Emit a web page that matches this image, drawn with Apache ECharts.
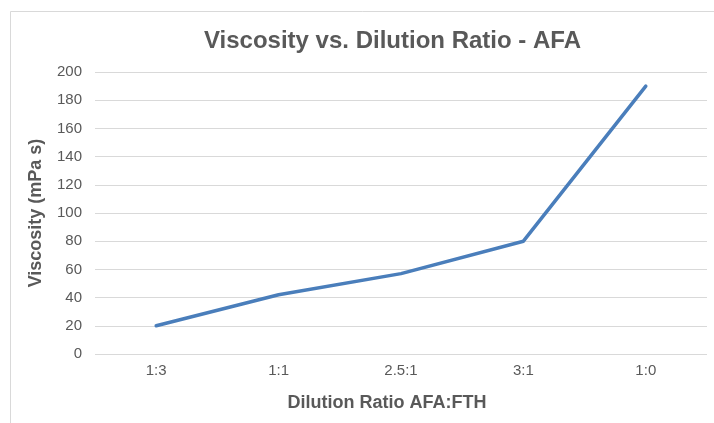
<!DOCTYPE html>
<html>
<head>
<meta charset="utf-8">
<script src="https://cdn.jsdelivr.net/npm/echarts@6/dist/echarts.min.js"></script>
<style>
  html, body { margin: 0; padding: 0; background: #fff; }
  #chart { width: 714px; height: 423px; }
</style>
</head>
<body>
<div id="chart"></div>
<script>
// dilution ratios (AFA:FTH) on the x axis
const ratios = ['1:3', '1:1', '2.5:1', '3:1', '1:0'];
// viscosity readings, mPa s
const viscosity = [20, 42, 57, 80, 190];
// y axis ticks
const yMin = 0;
const yMax = 200;
const yStep = 20;

const chart = echarts.init(document.getElementById('chart'));
const font = 'Liberation Sans, Arial, sans-serif';
const grey = '#595959';

chart.setOption({
    animation: false,
    backgroundColor: '#fff',
    title: {
        text: 'Viscosity vs. Dilution Ratio - AFA',
        left: 199,
        top: 24,
        textStyle: { fontFamily: font, fontSize: 24, fontWeight: 'bold', color: grey }
    },
    // thin frame of the chart area (only top and left edges show)
    graphic: [{
        type: 'rect',
        left: 8,
        top: 9,
        shape: { width: 730, height: 440 },
        style: { fill: null, stroke: '#d9d9d9', lineWidth: 1 },
        silent: true
    }],
    grid: { left: 95, right: 7, top: 72, bottom: 69 },
    xAxis: {
        type: 'category',
        data: ratios,
        boundaryGap: true,
        axisLine: { show: false },
        axisTick: { show: false },
        axisLabel: { color: grey, fontFamily: font, fontSize: 15, margin: 9 },
        name: 'Dilution Ratio AFA:FTH',
        nameLocation: 'middle',
        nameGap: 40,
        nameTextStyle: { color: grey, fontFamily: font, fontSize: 18, fontWeight: 'bold', padding: [0, 28, 0, 0] }
    },
    yAxis: {
        type: 'value',
        min: yMin,
        max: yMax,
        interval: yStep,
        axisLine: { show: false },
        axisTick: { show: false },
        axisLabel: { color: grey, fontFamily: font, fontSize: 15, margin: 13 },
        splitLine: { lineStyle: { color: '#d9d9d9', width: 1 } },
        name: 'Viscosity (mPa s)',
        nameLocation: 'middle',
        nameGap: 50,
        nameTextStyle: { color: grey, fontFamily: font, fontSize: 18, fontWeight: 'bold' }
    },
    series: [{
        type: 'line',
        data: viscosity,
        showSymbol: false,
        symbol: 'none',
        lineStyle: { color: '#4a7ebb', width: 3.5, cap: 'round', join: 'round' }
    }]
});
</script>
</body>
</html>
